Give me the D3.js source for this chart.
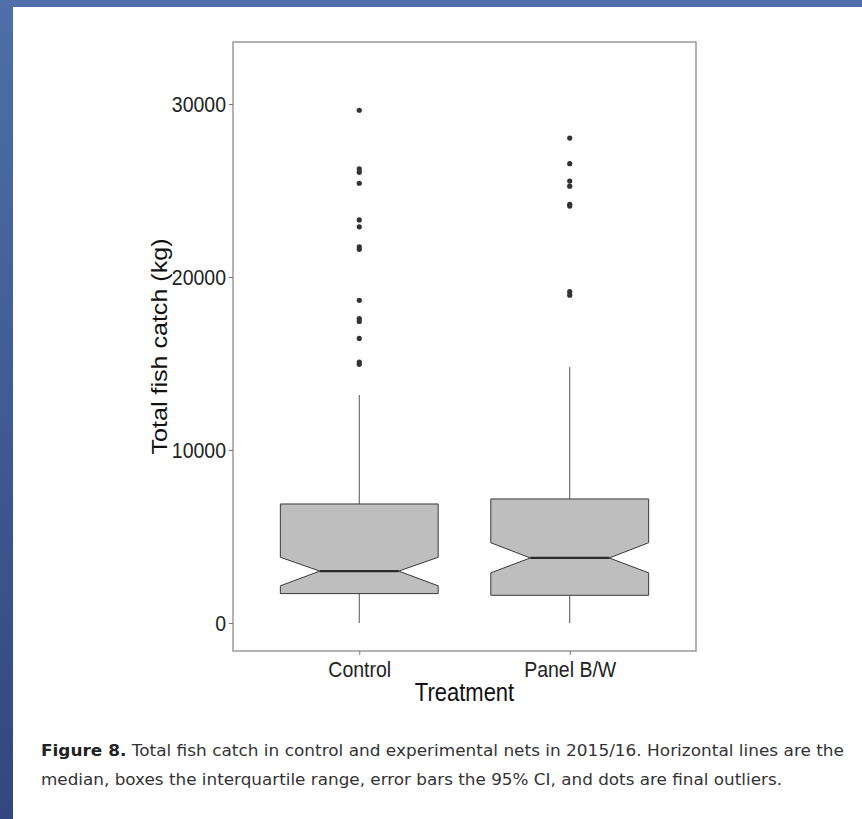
<!DOCTYPE html>
<html lang="en">
<head>
  <meta charset="UTF-8" />
  <title>Figure 8 — Total fish catch</title>
  <script src="https://d3js.org/d3.v7.min.js"></script>
  <style>
    body { margin: 0; background: #fff; }
    svg { display: block; }
    .tick text { font-family: "Liberation Sans", Arial, sans-serif; font-size: 19.5px; fill: #222; }
    .tick line { stroke: #777; }
    .axis-title { font-family: "Liberation Sans", Arial, sans-serif; font-size: 22px; fill: #111; }
    .caption { font-family: "DejaVu Sans", sans-serif; font-size: 15px; fill: #333; }
  </style>
</head>
<body>
<svg id="chart" width="862" height="819"></svg>
<script>
// values (kg)
const categories = ["Control", "Panel B/W"];
const q1 = [1700, 1600];
const medians = [3000, 3760];
const q3 = [6880, 7170];
const notchLo = [2150, 2900];
const notchHi = [3800, 4640];
const whiskerLo = [0, 0];
const whiskerHi = [13180, 14800];
const outliersControl = [29640, 26250, 26050, 25420, 23300, 22900, 21750, 21600, 18650, 17600, 17430, 16450, 15080, 14950];
const outliersPanel = [28030, 26550, 25550, 25250, 24200, 24100, 19150, 18950];
const yTicks = [0, 10000, 20000, 30000];

const boxes = categories.map((c, i) => ({
  cat: c, q1: q1[i], med: medians[i], q3: q3[i],
  nlo: notchLo[i], nhi: notchHi[i], wlo: whiskerLo[i], whi: whiskerHi[i]
}));
const outliers = [
  ...outliersControl.map(v => ({ cat: categories[0], v })),
  ...outliersPanel.map(v => ({ cat: categories[1], v }))
];

const panel = { left: 233, right: 696, top: 42, bottom: 651 };
const stretch = 1.14; // the source image is slightly stretched vertically

const svg = d3.select("#chart");

// blue slide frame
const grad = svg.append("defs").append("linearGradient")
  .attr("id", "side").attr("x1", 0).attr("y1", 0).attr("x2", 0).attr("y2", 1);
grad.append("stop").attr("offset", "0%").attr("stop-color", "#4e6fa9");
grad.append("stop").attr("offset", "100%").attr("stop-color", "#33467f");
svg.append("rect").attr("x", 0).attr("y", 0).attr("width", 862).attr("height", 7).attr("fill", "#4e6fa9");
svg.append("rect").attr("x", 0).attr("y", 0).attr("width", 13).attr("height", 819).attr("fill", "url(#side)");

const x = d3.scalePoint()
  .domain(categories)
  .range([panel.left, panel.right])
  .padding(0.6);

const y = d3.scaleLinear()
  .domain([-1618, 33584])
  .range([panel.bottom, panel.top]);

const boxW = x.step() * 0.75;
const notchW = boxW * 0.25;

// whiskers
const g = svg.append("g");
g.selectAll("line.whi").data(boxes).enter().append("line")
  .attr("x1", d => x(d.cat)).attr("x2", d => x(d.cat))
  .attr("y1", d => y(d.q3)).attr("y2", d => y(d.whi))
  .attr("stroke", "#555").attr("stroke-width", 1);
g.selectAll("line.wlo").data(boxes).enter().append("line")
  .attr("x1", d => x(d.cat)).attr("x2", d => x(d.cat))
  .attr("y1", d => y(d.q1)).attr("y2", d => y(d.wlo))
  .attr("stroke", "#555").attr("stroke-width", 1);

// notched boxes
g.selectAll("path.box").data(boxes).enter().append("path")
  .attr("d", d => {
    const l = x(d.cat) - boxW / 2, r = x(d.cat) + boxW / 2;
    return d3.line()([
      [l, y(d.q3)], [r, y(d.q3)], [r, y(d.nhi)], [r - notchW, y(d.med)],
      [r, y(d.nlo)], [r, y(d.q1)], [l, y(d.q1)], [l, y(d.nlo)],
      [l + notchW, y(d.med)], [l, y(d.nhi)]
    ]) + "Z";
  })
  .attr("fill", "#bebebe").attr("stroke", "#3a3a3a").attr("stroke-width", 1);

g.selectAll("line.med").data(boxes).enter().append("line")
  .attr("x1", d => x(d.cat) - boxW / 2 + notchW).attr("x2", d => x(d.cat) + boxW / 2 - notchW)
  .attr("y1", d => y(d.med)).attr("y2", d => y(d.med))
  .attr("stroke", "#2a2a2a").attr("stroke-width", 2.2);

// outliers
g.selectAll("circle").data(outliers).enter().append("circle")
  .attr("cx", d => x(d.cat)).attr("cy", d => y(d.v))
  .attr("r", 2.6).attr("fill", "#333");

// panel border
svg.append("rect")
  .attr("x", panel.left).attr("y", panel.top)
  .attr("width", panel.right - panel.left).attr("height", panel.bottom - panel.top)
  .attr("fill", "none").attr("stroke", "#8a8a8a").attr("stroke-width", 1.3);

// axes
const yAxis = svg.append("g")
  .attr("transform", `translate(${panel.left},0)`)
  .call(d3.axisLeft(y).tickValues(yTicks).tickFormat(d3.format("d")).tickSize(4).tickPadding(3));
yAxis.select(".domain").remove();
yAxis.selectAll(".tick text").attr("transform", `scale(1,${stretch})`);

const xAxis = svg.append("g")
  .attr("transform", `translate(0,${panel.bottom})`)
  .call(d3.axisBottom(x).tickSize(4).tickPadding(5));
xAxis.select(".domain").remove();
xAxis.selectAll(".tick text").attr("transform", `scale(1,${stretch})`);

// axis titles
svg.append("text").attr("class", "axis-title")
  .attr("transform", `translate(167,${(panel.top + panel.bottom) / 2}) scale(1,${stretch}) rotate(-90)`)
  .attr("text-anchor", "middle")
  .text("Total fish catch (kg)");

svg.append("text").attr("class", "axis-title")
  .attr("transform", `translate(${(panel.left + panel.right) / 2},701) scale(1,${stretch})`)
  .attr("text-anchor", "middle")
  .text("Treatment");

// caption
const cap1 = svg.append("text").attr("class", "caption")
  .attr("x", 41).attr("y", 756)
  .attr("textLength", 803).attr("lengthAdjust", "spacingAndGlyphs");
cap1.append("tspan").attr("font-weight", "bold").attr("fill", "#222").text("Figure 8.");
cap1.append("tspan").text(" Total fish catch in control and experimental nets in 2015/16. Horizontal lines are the");

svg.append("text").attr("class", "caption")
  .attr("x", 41).attr("y", 785)
  .attr("textLength", 741).attr("lengthAdjust", "spacingAndGlyphs")
  .text("median, boxes the interquartile range, error bars the 95% CI, and dots are final outliers.");
</script>
</body>
</html>
